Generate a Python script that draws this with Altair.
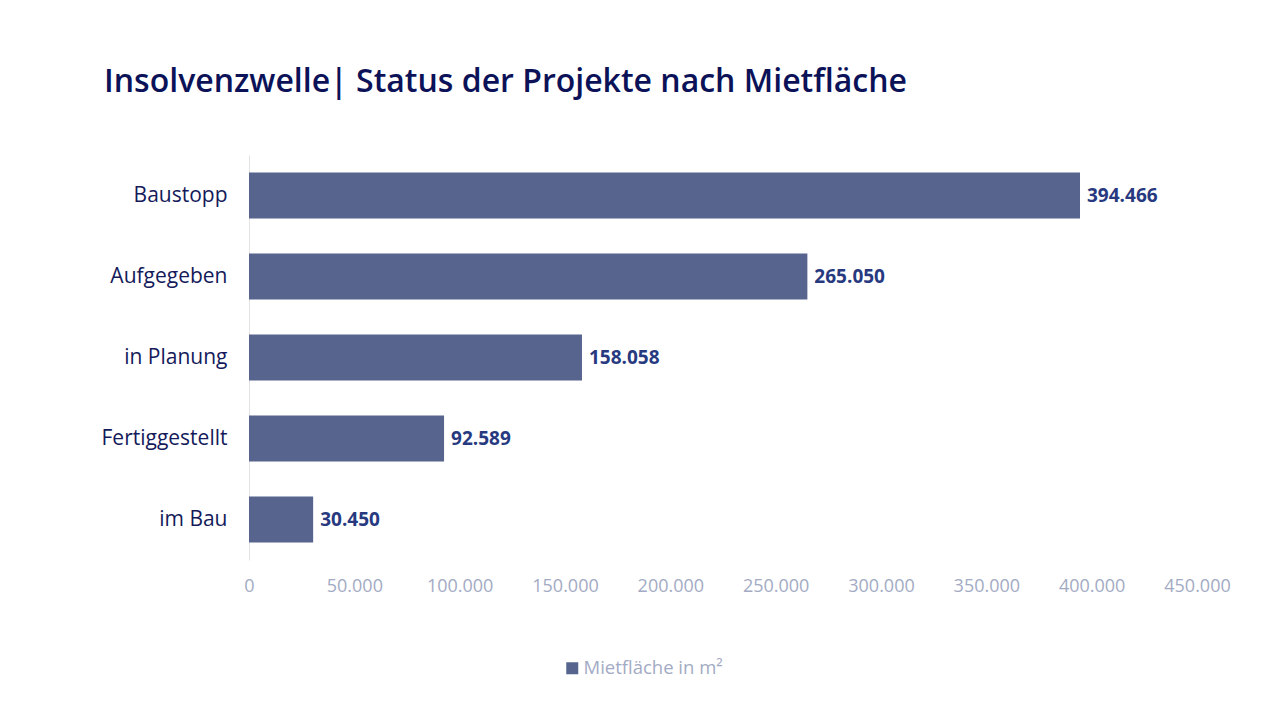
import altair as alt
import pandas as pd

categories = ["Baustopp", "Aufgegeben", "in Planung", "Fertiggestellt", "im Bau"]
values = [394466, 265050, 158058, 92589, 30450]
series_name = "Mietfläche in m²"
x_ticks = [0, 50000, 100000, 150000, 200000, 250000, 300000, 350000, 400000, 450000]

df = pd.DataFrame({"Status": categories, "Wert": values, "Serie": [series_name] * len(categories)})

BAR = "#57648e"
FONT = "Open Sans"

base = alt.Chart(df).encode(
    y=alt.Y("Status:N", sort=categories, title=None,
            scale=alt.Scale(paddingInner=0.43, paddingOuter=0.215),
            axis=alt.Axis(labelFont=FONT, labelFontSize=21, labelColor="#141a5a",
                          labelPadding=22, ticks=False, domain=True, domainColor="#e3e3e3",
                          grid=False)),
    x=alt.X("Wert:Q", title=None,
            scale=alt.Scale(domain=[0, 450000], nice=False),
            axis=alt.Axis(values=x_ticks, labelFont=FONT, labelFontSize=18, labelColor="#a3abc4",
                          labelExpr="replace(format(datum.value, ','), ',', '.')",
                          labelPadding=17, ticks=False, domain=False, grid=False,
                          labelFlush=False)),
)

bars = base.mark_bar(color=BAR).encode(
    color=alt.Color("Serie:N", scale=alt.Scale(range=[BAR]),
                    legend=alt.Legend(title=None, orient="none", legendX=314, legendY=504,
                                      symbolType="square", symbolSize=144, symbolStrokeWidth=0,
                                      labelFont=FONT, labelFontSize=18.5, labelColor="#a3abc4",
                                      symbolOffset=0, labelOffset=2))
)

texts = base.transform_calculate(
    lab="replace(format(datum.Wert, ','), ',', '.')"
).mark_text(align="left", baseline="middle", dx=7, font=FONT, fontSize=19,
            fontWeight="bold", color="#27397f").encode(text="lab:N")

chart = (bars + texts).properties(
    width=948, height=405,
    padding={"left": 241, "top": 147, "right": 75, "bottom": 152},
    autosize=alt.AutoSizeParams(type="none"),
    title=alt.TitleParams("Insolvenzwelle|  Status der Projekte nach Mietfläche",
                          font=FONT, fontSize=32, fontWeight=600, color="#0c1257",
                          anchor="start", frame="group", dx=-145, offset=31, baseline="alphabetic"),
).configure_view(stroke=None)

chart.save("out.html", embed_options={"renderer": "svg", "actions": False})
